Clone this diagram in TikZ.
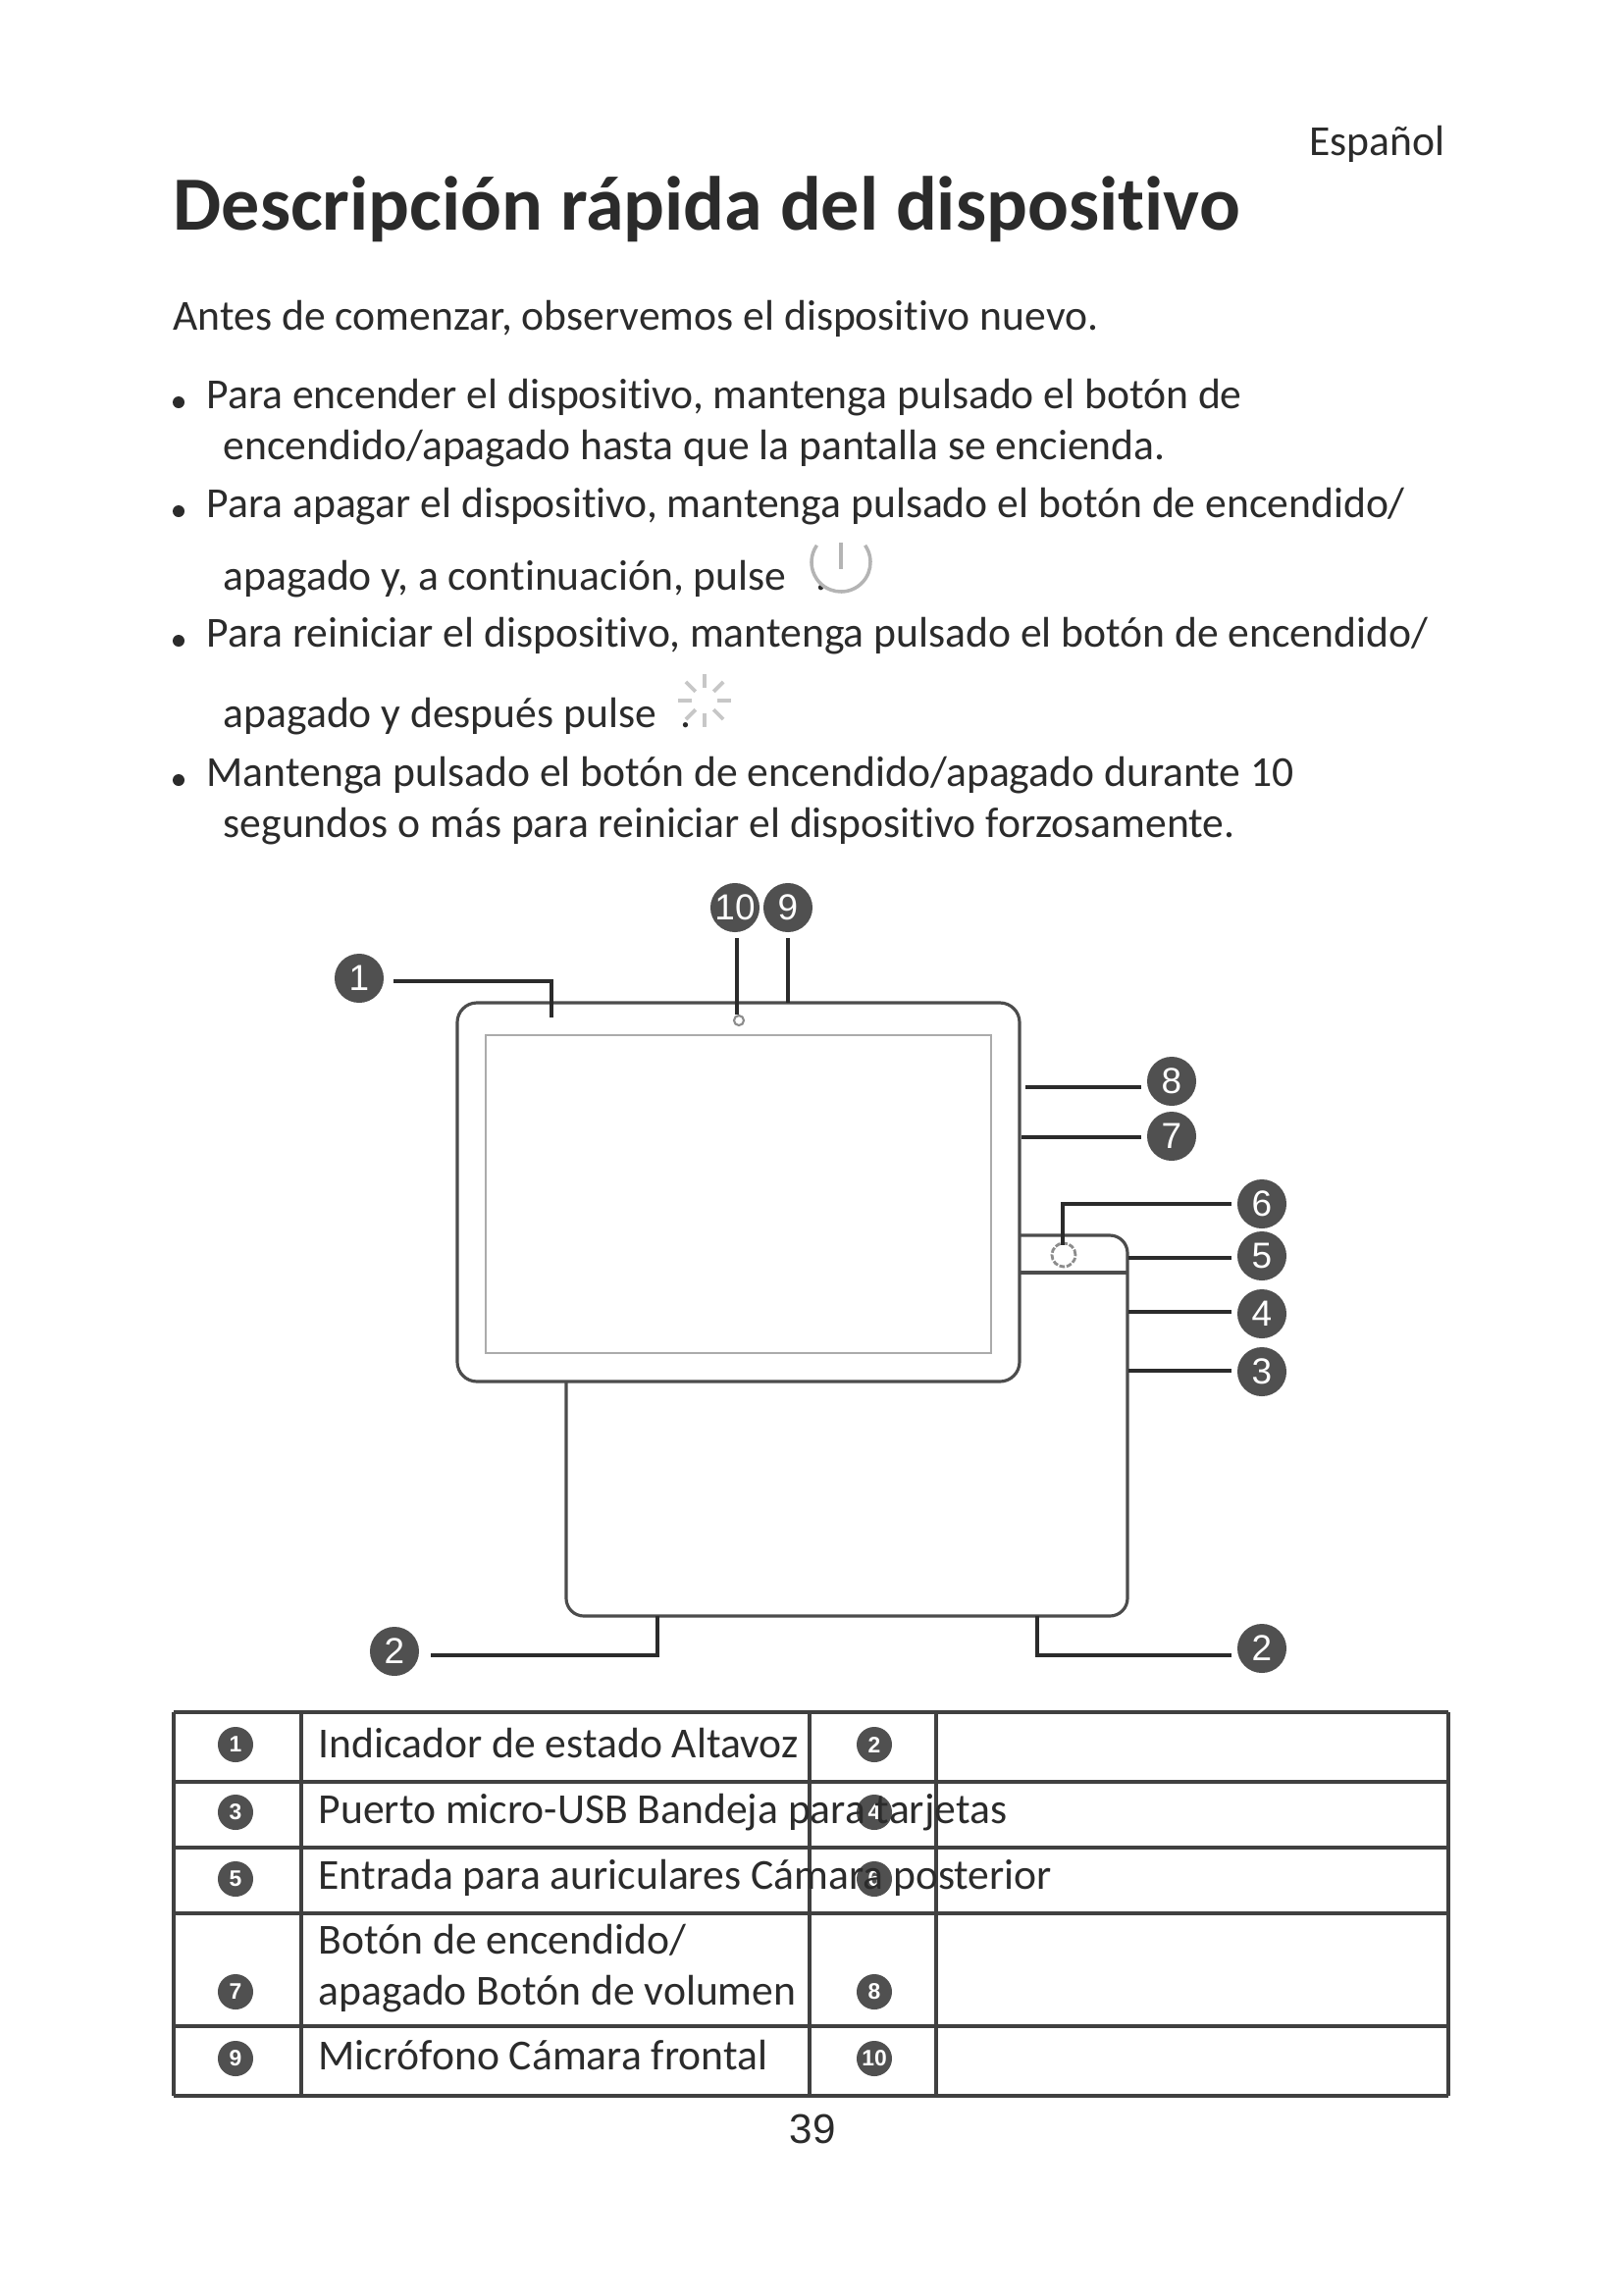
\documentclass[tikz,border=0pt]{standalone}
\usepackage{fontspec}
\setmainfont[Ligatures=CommonOff]{Carlito}
\newfontfamily\digitfont{Liberation Sans}
\definecolor{ink}{HTML}{2B2B2B}
\definecolor{badgegray}{HTML}{505050}
\definecolor{screengray}{HTML}{ABABAB}
\definecolor{icongray}{HTML}{B4B4B4}
\tikzset{
	body/.style={anchor=base west,inner sep=0pt,text=ink,font=\fontsize{12.4}{14}\selectfont},
	badge/.style={circle,fill=badgegray,text=white,minimum size=0.5cm,inner sep=0pt,outer sep=0.06cm,font=\digitfont\fontsize{10.5}{11}\selectfont},
	smallbadge/.style={circle,fill=badgegray,text=white,minimum size=0.36cm,inner sep=0pt,font=\digitfont\bfseries\fontsize{6.5}{7}\selectfont},
	leader/.style={line width=0.9pt,color=ink},
	edge/.style={line width=0.9pt,color=black!70},
	rule/.style={line width=0.9pt,color=black!75}
}
\begin{document}
\begin{tikzpicture}[x=0.01cm,y=-0.01cm]
\useasboundingbox[fill=white] (0,0) rectangle (1654,2339);
% page text
\node[body,anchor=base east] (lang) at (1473,158) {Español};
\node[body,anchor=base west,font=\bfseries\fontsize{22.2}{26}\selectfont] (title) at (176,234) {Descripción rápida del dispositivo};
\node[body] (intro) at (176,336) {Antes de comenzar, observemos el dispositivo nuevo.};
\foreach \y in {410,521,653,795}
	\fill[ink] (182,\y) circle (0.06cm);
\node[body] (itemAa) at (210,416) {Para encender el dispositivo, mantenga pulsado el botón de};
\node[body] (itemAb) at (227,468) {encendido/apagado hasta que la pantalla se encienda.};
\node[body] (itemBa) at (210,527) {Para apagar el dispositivo, mantenga pulsado el botón de encendido/};
\node[body] (itemBb) at (227,601) {apagado y, a continuación, pulse\hspace{0.3cm}.};
\node[body] (itemCa) at (210,659) {Para reiniciar el dispositivo, mantenga pulsado el botón de encendido/};
\node[body] (itemCb) at (227,741) {apagado y después pulse\hspace{0.25cm}.};
\node[body] (itemDa) at (210,801) {Mantenga pulsado el botón de encendido/apagado durante 10};
\node[body] (itemDb) at (227,853) {segundos o más para reiniciar el dispositivo forzosamente.};
% power and restart icons
\draw[icongray,line width=1pt] (857,573) ++(35:0.3cm) arc[start angle=35,end angle=-215,radius=0.3cm];
\draw[icongray,line width=0.9pt] (857,553) -- (857,580);
\foreach \a in {0,45,...,315}
	\draw[black!22,line width=1.1pt] (718,714) ++(\a:0.13cm) -- ++(\a:0.14cm);
% tablet
\draw[edge,rounded corners=0.18cm] (577,1408) -- (577,1647) -- (1149,1647) -- (1149,1259) -- (1039,1259);
\draw[edge] (1039,1297) -- (1149,1297);
\draw[edge,fill=white,rounded corners=0.2cm] (466,1022) rectangle (1039,1408);
\draw[screengray,line width=0.8pt] (495,1055) rectangle (1010,1379);
\draw[black!45,line width=0.6pt] (753,1040) circle (0.05cm);
\draw[black!45,line width=0.8pt,dash pattern=on 1.6pt off 0.5pt] (1084,1279) circle (0.12cm);
% numbered badges
\foreach \name/\n/\x/\y in {one/1/366/997, ten/10/749/925, nine/9/803/925, eight/8/1194/1102, seven/7/1194/1158, six/6/1286/1227, five/5/1286/1280, four/4/1286/1339, three/3/1286/1398, twoL/2/402/1683, twoR/2/1286/1680}
	\node[badge] (b\name) at (\x,\y) {\n};
\coordinate (tone) at (562,1037);
\coordinate (tten) at (751,1034);
\coordinate (tnine) at (803,1022);
\coordinate (teight) at (1045,1108);
\coordinate (tseven) at (1041,1159);
\coordinate (tsix) at (1083,1269);
\coordinate (tfive) at (1150,1282);
\coordinate (tfour) at (1150,1337);
\coordinate (tthree) at (1150,1397);
\coordinate (ttwoL) at (670,1647);
\coordinate (ttwoR) at (1057,1647);
\draw[leader,shorten <=0.04cm] (bone.east |- 0,1000) -| (tone);
\draw[leader] (bten.south -| tten) -- (tten);
\draw[leader] (bnine.south -| tnine) -- (tnine);
\foreach \name in {eight,seven,five,four,three}
	\draw[leader] (b\name.west |- t\name) -- (t\name);
\draw[leader] (bsix.west) -| (tsix);
\draw[leader,shorten <=0.06cm] (btwoL.east |- 0,1687) -| (ttwoL);
\draw[leader] (btwoR.west |- 0,1687) -| (ttwoR);
% table
\foreach \y in {1745,1816,1883,1950,2065,2136}
	\draw[rule] (177,\y) -- (1476,\y);
\foreach \x in {177,307,825,954,1476}
	\draw[rule] (\x,1745) -- (\x,2136);
\foreach \name/\n/\x/\y in {sone/1/240/1778, stwo/2/891/1778, sthree/3/240/1847, sfour/4/891/1847, sfive/5/240/1915, ssix/6/891/1915, sseven/7/240/2030, seight/8/891/2030, snine/9/240/2098, sten/10/891/2098}
	\node[smallbadge] (b\name) at (\x,\y) {\n};
\node[body] (rowA) at (324,1791) {Indicador de estado Altavoz};
\node[body] (rowB) at (324,1858) {Puerto micro-USB Bandeja para tarjetas};
\node[body] (rowC) at (324,1925) {Entrada para auriculares Cámara posterior};
\node[body] (rowDa) at (324,1991) {Botón de encendido/};
\node[body] (rowDb) at (324,2043) {apagado Botón de volumen};
\node[body] (rowE) at (324,2109) {Micrófono Cámara frontal};
\node[body,anchor=base,font=\digitfont\fontsize{12}{14}\selectfont] (pagenum) at (828,2184) {39};
\end{tikzpicture}
\end{document}
